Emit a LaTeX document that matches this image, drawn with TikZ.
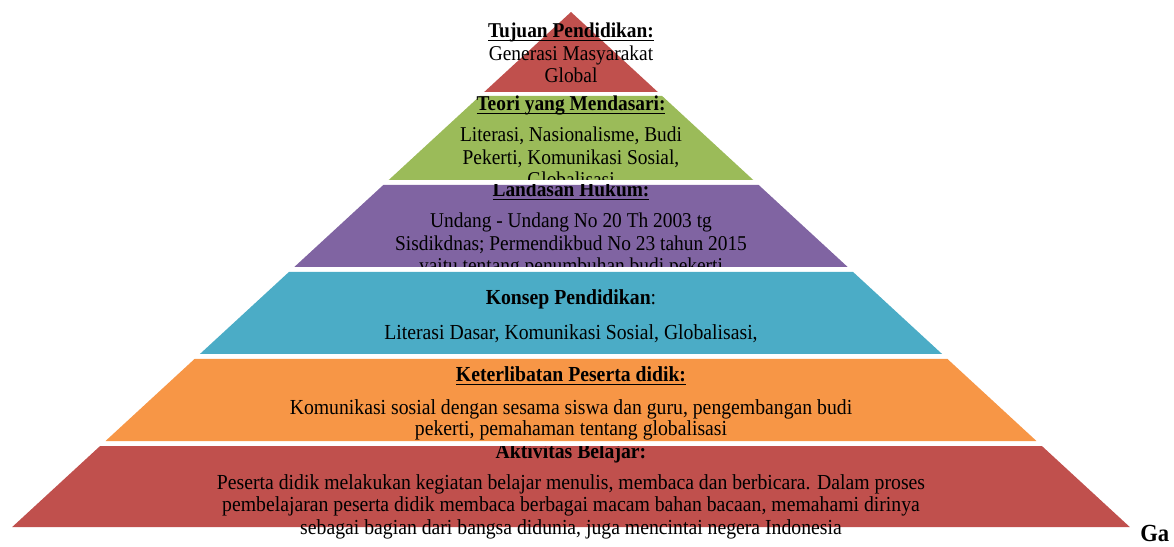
\documentclass[tikz,border=0pt]{standalone}
\usepackage{fontspec}
\setmainfont[FakeStretch=0.92]{Liberation Serif}
\usetikzlibrary{positioning}

\newsavebox\hdbox
\newcommand\hdline[1]{\sbox\hdbox{#1}\rlap{\rule[-2pt]{\wd\hdbox}{0.6pt}}\usebox\hdbox}

\definecolor{pyrRed}{HTML}{C0504D}
\definecolor{pyrGreen}{HTML}{9BBB59}
\definecolor{pyrPurple}{HTML}{8064A2}
\definecolor{pyrTeal}{HTML}{4BACC6}
\definecolor{pyrOrange}{HTML}{F79646}

\begin{document}
\begin{tikzpicture}[
    x=0.02cm, y=-0.02cm,
    layertext/.style={inner sep=0pt, align=center, anchor=north, font=\fontsize{12}{12.6}\selectfont},
    widetext/.style={layertext, font=\fontsize{12.2}{12.8}\selectfont}
]
    \useasboundingbox (0,0) rectangle (1174,547);

    % 1. Pyramid layers (apex at 571,12 -- same slope for every band)
    \foreach \yt/\yb/\col in {12/92/pyrRed, 96/180/pyrGreen, 185/267/pyrPurple,
                              272/354/pyrTeal, 359/441/pyrOrange, 446/527/pyrRed} {
        \pgfmathsetmacro\wt{(\yt-12)*1.085}
        \pgfmathsetmacro\wb{(\yb-12)*1.085}
        \fill[\col] ({571-\wt},\yt) -- ({571+\wt},\yt) -- ({571+\wb},\yb) -- ({571-\wb},\yb) -- cycle;
    }

    % 2. Texts, cut off where the reference cuts them
    \node[layertext] (tujuan) at (571,23) {\textbf{\hdline{Tujuan Pendidikan:}}\\ Generasi Masyarakat\\ Global};

    \begin{scope}
        \clip (0,96) rectangle (1174,180);
        \node[layertext] (teori) at (571,96) {\textbf{\hdline{Teori yang Mendasari:}}\\[5pt] Literasi, Nasionalisme, Budi\\ Pekerti, Komunikasi Sosial,\\ Globalisasi};
    \end{scope}

    \begin{scope}
        \clip (0,185) rectangle (1174,267);
        \node[layertext] (landasan) at (571,182) {\textbf{\hdline{Landasan Hukum:}}\\[5pt] Undang - Undang No 20 Th 2003 tg\\ Sisdikdnas; Permendikbud No 23 tahun 2015\\ yaitu tentang penumbuhan budi pekerti};
    \end{scope}

    \node[widetext] (konsep) at (571,289) {\textbf{Konsep Pendidikan}:\\[7pt] Literasi Dasar, Komunikasi Sosial, Globalisasi,};

    \node[widetext, font=\fontsize{12.2}{11.6}\selectfont] (keterlibatan) at (571,366) {\textbf{\hdline{Keterlibatan Peserta didik:}}\\[7.5pt] Komunikasi sosial dengan sesama siswa dan guru, pengembangan budi\\ pekerti, pemahaman tentang globalisasi};

    \begin{scope}
        \clip (0,446) rectangle (1174,547);
        \node[widetext] (aktivitas) at (571,443) {\textbf{Aktivitas Belajar:}\\[5pt] Peserta didik melakukan kegiatan belajar menulis, membaca dan berbicara. Dalam proses\\ pembelajaran peserta didik membaca berbagai macam bahan bacaan, memahami dirinya\\ sebagai bagian dari bangsa didunia, juga mencintai negera Indonesia};
    \end{scope}

    % 3. Caption stub at the right edge
    \node[inner sep=0pt, anchor=base west, font=\fontsize{14}{16}\selectfont\bfseries] (caption) at (1140,541) {Ga};
\end{tikzpicture}
\end{document}
